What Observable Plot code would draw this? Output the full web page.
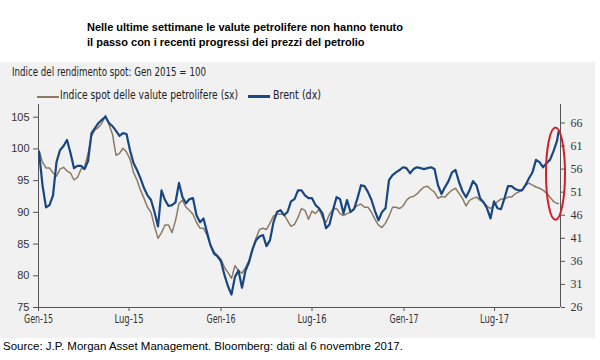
<!DOCTYPE html>
<html><head><meta charset="utf-8">
<script src="https://cdn.jsdelivr.net/npm/d3@7"></script>
<script src="https://cdn.jsdelivr.net/npm/@observablehq/plot@0.6"></script>
<style>
body{margin:0;background:#fff;}
#wrap{position:relative;width:600px;height:360px;overflow:hidden;font-family:"Liberation Sans",Arial,sans-serif;color:#111;}
#panel{position:absolute;left:0;top:62px;width:595px;height:276px;background:#f1f1f1;}
.t{position:absolute;white-space:nowrap;}
.title{left:87px;font-weight:bold;font-size:11px;line-height:11px;color:#000;}
.narrow{font-family:"DejaVu Sans Condensed","DejaVu Sans",sans-serif;font-size:11.5px;line-height:11.5px;color:#222;transform-origin:0 0;}
.sw{position:absolute;height:2px;}
#chart{position:absolute;left:0;top:62px;}
.src{left:3px;font-size:11.5px;line-height:11.5px;color:#000;}
</style></head>
<body><div id="wrap">
<div id="panel"></div>
<div class="t title" style="top:21.7px">Nelle ultime settimane le valute petrolifere non hanno tenuto</div>
<div class="t title" style="top:36.7px">il passo con i recenti progressi dei prezzi del petrolio</div>
<div class="t narrow" data-w="194" style="left:12px;top:67.3px">Indice del rendimento spot: Gen 2015 = 100</div>
<div class="sw" style="left:37px;width:22px;top:95.5px;background:#8c7a66"></div>
<div class="t narrow" data-w="178" style="left:60px;top:90.3px">Indice spot delle valute petrolifere (sx)</div>
<div class="sw" style="left:248px;width:22px;top:95.3px;background:#1a4a85;height:2.5px"></div>
<div class="t narrow" data-w="48" style="left:273px;top:90.3px">Brent (dx)</div>
<div id="chart"></div>
<div class="t src" style="top:341.3px">Source: J.P. Morgan Asset Management. Bloomberg: dati al 6 novembre 2017.</div>
</div>
<script>
const dates = [
"2015-01-02","2015-01-09","2015-01-16","2015-01-23","2015-01-30","2015-02-06","2015-02-13","2015-02-20","2015-02-27",
"2015-03-06","2015-03-13","2015-03-20","2015-03-27","2015-04-03","2015-04-10","2015-04-17","2015-04-24",
"2015-05-01","2015-05-08","2015-05-15","2015-05-22","2015-05-29","2015-06-05","2015-06-12","2015-06-19","2015-06-26",
"2015-07-03","2015-07-10","2015-07-17","2015-07-24","2015-07-31","2015-08-07","2015-08-14","2015-08-21","2015-08-28",
"2015-09-04","2015-09-11","2015-09-18","2015-09-25","2015-10-02","2015-10-09","2015-10-16","2015-10-23","2015-10-30",
"2015-11-06","2015-11-13","2015-11-20","2015-11-27","2015-12-04","2015-12-11","2015-12-18","2015-12-25",
"2016-01-01","2016-01-08","2016-01-15","2016-01-22","2016-01-29","2016-02-05","2016-02-12","2016-02-19","2016-02-26",
"2016-03-04","2016-03-11","2016-03-18","2016-03-25","2016-04-01","2016-04-08","2016-04-15","2016-04-22","2016-04-29",
"2016-05-06","2016-05-13","2016-05-20","2016-05-27","2016-06-03","2016-06-10","2016-06-17","2016-06-24",
"2016-07-01","2016-07-08","2016-07-15","2016-07-22","2016-07-29","2016-08-05","2016-08-12","2016-08-19","2016-08-26",
"2016-09-02","2016-09-09","2016-09-16","2016-09-23","2016-09-30","2016-10-07","2016-10-14","2016-10-21","2016-10-28",
"2016-11-04","2016-11-11","2016-11-18","2016-11-25","2016-12-02","2016-12-09","2016-12-16","2016-12-23","2016-12-30",
"2017-01-06","2017-01-13","2017-01-20","2017-01-27","2017-02-03","2017-02-10","2017-02-17","2017-02-24",
"2017-03-03","2017-03-10","2017-03-17","2017-03-24","2017-03-31","2017-04-07","2017-04-14","2017-04-21","2017-04-28",
"2017-05-05","2017-05-12","2017-05-19","2017-05-26","2017-06-02","2017-06-09","2017-06-16","2017-06-23","2017-06-30",
"2017-07-07","2017-07-14","2017-07-21","2017-07-28","2017-08-04","2017-08-11","2017-08-18","2017-08-25",
"2017-09-01","2017-09-08","2017-09-15","2017-09-22","2017-09-29","2017-10-06","2017-10-13","2017-10-20","2017-10-27",
"2017-11-03","2017-11-06"];

const spotIndex = [
99.8,97.9,97.0,97.0,96.2,95.7,96.8,97.1,96.5,96.2,95.1,95.5,96.8,97.1,99.2,102.0,103.0,103.4,104.1,105.3,
103.8,102.3,99.0,99.3,100.1,99.5,98.4,96.3,95.1,93.5,92.2,90.8,90.0,87.8,85.9,86.8,88.0,88.0,86.8,88.7,
91.4,91.9,90.8,90.3,89.7,88.4,87.5,87.5,86.4,84.8,83.8,83.2,82.6,81.3,80.5,79.6,81.6,80.8,80.4,81.3,
82.4,84.2,85.9,87.3,87.5,87.3,88.3,89.4,89.7,89.7,89.7,88.7,87.8,88.1,89.2,90.6,90.3,88.9,90.2,89.8,
90.5,89.2,88.4,89.7,90.5,90.6,89.8,89.5,89.8,90.0,90.6,91.1,91.3,90.8,90.8,90.0,88.9,88.0,87.6,88.3,
89.4,90.8,90.8,90.6,91.0,91.9,92.4,92.5,92.9,93.5,94.0,94.1,93.6,93.2,92.2,92.5,92.4,93.0,93.5,93.8,
93.0,92.2,91.0,91.9,92.2,92.4,91.9,91.6,91.0,90.6,91.1,91.7,92.1,92.1,92.4,92.4,92.9,93.2,93.5,94.3,
94.6,94.3,94.0,93.8,93.5,93.0,92.4,91.7,91.4,91.4];

const brent = [
59.7,52.5,47.7,48.2,50.3,57.5,60.1,61.0,62.3,59.5,56.2,56.7,56.7,56.0,57.7,63.8,64.9,66.0,66.7,67.3,
66.0,65.3,64.3,63.2,63.8,63.6,60.1,57.3,55.8,54.0,51.9,50.3,49.3,46.7,43.6,51.4,49.3,48.0,48.2,48.8,
53.0,49.9,48.6,49.5,49.7,46.0,44.5,45.3,42.3,39.5,37.7,37.1,36.0,33.0,30.6,28.8,32.7,34.0,30.3,34.0,
35.8,38.6,40.6,41.4,41.7,39.3,40.6,44.5,46.7,47.1,46.0,46.7,49.0,49.5,51.4,51.4,50.3,49.7,49.7,48.2,
47.5,46.4,43.2,44.0,47.1,49.9,49.5,46.4,49.3,46.7,47.3,49.7,52.5,52.3,51.0,49.3,46.9,44.9,46.7,47.5,
53.6,54.7,55.3,55.8,56.4,56.2,55.1,56.0,56.4,56.2,56.0,56.2,56.4,56.0,52.5,50.6,52.1,53.4,55.3,55.8,
53.2,51.2,49.9,51.4,53.4,52.5,49.7,48.8,47.5,45.3,49.0,47.5,47.3,49.7,52.3,52.3,51.7,51.4,51.4,52.5,
54.0,55.3,58.0,57.5,56.4,57.3,58.0,59.9,62.1,64.0];

const leftTicks = [75, 80, 85, 90, 95, 100, 105];
const rightTicks = [26, 31, 36, 41, 46, 51, 56, 61, 66];
const xTickDates = ["2015-01-01","2015-07-01","2016-01-01","2016-07-01","2017-01-01","2017-07-01"];
const xTickLabels = ["Gen-15","Lug-15","Gen-16","Lug-16","Gen-17","Lug-17"];

// axis domains
const leftDomain = [75, 107];
const rightDomain = [26, 70];
const xDomain = ["2015-01-01", "2017-11-10"];
// highlighted area (red ellipse): centre date / Brent value, half-widths in days and Brent units
const highlight = {date: "2017-11-01", value: 54.9, days: 19, units: 10};

const k = (leftDomain[1] - leftDomain[0]) / (rightDomain[1] - rightDomain[0]);
const toLeft = b => leftDomain[0] + (b - rightDomain[0]) * k;
const fromLeft = v => rightDomain[0] + (v - leftDomain[0]) / k;

const spotData = dates.map((d, i) => ({date: new Date(d), value: spotIndex[i]}));
const brentData = dates.map((d, i) => ({date: new Date(d), value: brent[i]}));
const x0 = new Date(xDomain[0]), x1 = new Date(xDomain[1]);

const chart = Plot.plot({
  width: 600, height: 276,
  marginTop: 42, marginBottom: 31, marginLeft: 38, marginRight: 40,
  style: {background: "transparent", fontFamily: '"Liberation Sans",Arial,sans-serif', fontSize: "11px", color: "#333", overflow: "visible"},
  x: {type: "utc", domain: [x0, x1]},
  y: {domain: leftDomain},
  marks: [
    Plot.ruleX([x0], {stroke: "#555", strokeWidth: 1}),
    Plot.ruleX([x1], {stroke: "#555", strokeWidth: 1}),
    Plot.ruleY([leftDomain[0]], {stroke: "#555", strokeWidth: 1}),
    Plot.axisX(xTickDates.map(d => new Date(d)), {anchor: "bottom", tickSize: 4, tickPadding: 3, tickFormat: (d, i) => xTickLabels[i], label: null, fontFamily: '"DejaVu Sans Condensed","DejaVu Sans",sans-serif', fontSize: 12, stroke: "#555"}),
    Plot.axisY(leftTicks, {anchor: "left", tickSize: 5, tickPadding: 4, label: null, fontSize: 11, stroke: "#555"}),
    Plot.axisY(rightTicks.map(toLeft), {anchor: "right", tickSize: 4, tickPadding: 6, label: null, tickFormat: d => Math.round(fromLeft(d)), fontFamily: '"Liberation Serif","DejaVu Serif",serif', fontSize: 12, stroke: "#555"}),
    Plot.line(spotData, {x: "date", y: "value", stroke: "#8c7a66", strokeWidth: 1.5}),
    Plot.line(brentData, {x: "date", y: d => toLeft(d.value), stroke: "#184683", strokeWidth: 2.2}),
    (index, scales) => {
      const c = new Date(highlight.date);
      const cx = scales.x(c);
      const rx = scales.x(new Date(+c + highlight.days * 864e5)) - cx;
      const cy = scales.y(toLeft(highlight.value));
      const ry = cy - scales.y(toLeft(highlight.value + highlight.units));
      const e = document.createElementNS("http://www.w3.org/2000/svg", "ellipse");
      e.setAttribute("cx", cx); e.setAttribute("cy", cy);
      e.setAttribute("rx", rx); e.setAttribute("ry", ry);
      e.setAttribute("fill", "none"); e.setAttribute("stroke", "#d0202a"); e.setAttribute("stroke-width", 2);
      return e;
    }
  ]
});
document.getElementById("chart").appendChild(chart);

// condense x tick labels to the narrow face of the original (about 28px wide)
chart.querySelectorAll('[aria-label="x-axis tick label"] text').forEach(t => {
  const L = t.getComputedTextLength();
  if (L > 29) {
    t.setAttribute("textLength", "29");
    t.setAttribute("lengthAdjust", "spacingAndGlyphs");
  }
});
// fit the narrow HTML labels to their widths in the original
document.querySelectorAll(".narrow[data-w]").forEach(el => {
  const w = el.getBoundingClientRect().width;
  el.style.transform = `scaleX(${(+el.dataset.w / w).toFixed(3)})`;
});
</script>
</body></html>
